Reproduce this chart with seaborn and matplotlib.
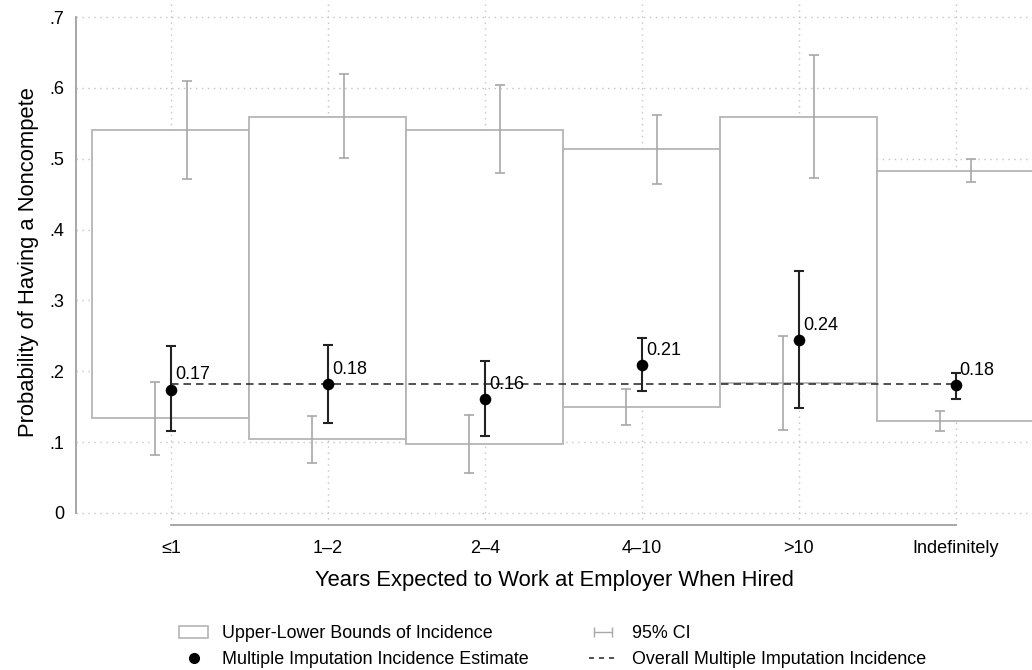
import numpy as np
import pandas as pd
import matplotlib
matplotlib.use("Agg")
import matplotlib.pyplot as plt
import seaborn as sns
from matplotlib.patches import Patch
from matplotlib.lines import Line2D
from matplotlib.legend_handler import HandlerLine2D

# ---- data ----
categories = ['≤1', '1–2', '2–4', '4–10', '>10', 'Indefinitely']
upper_bound = [0.541, 0.559, 0.541, 0.513, 0.559, 0.483]
lower_bound = [0.134, 0.104, 0.098, 0.150, 0.183, 0.130]
upper_ci_lo = [0.472, 0.501, 0.480, 0.465, 0.473, 0.467]
upper_ci_hi = [0.610, 0.619, 0.604, 0.562, 0.646, 0.500]
lower_ci_lo = [0.082, 0.070, 0.057, 0.124, 0.117, 0.116]
lower_ci_hi = [0.185, 0.137, 0.138, 0.175, 0.250, 0.144]
mi_estimate = [0.174, 0.182, 0.161, 0.209, 0.244, 0.180]
mi_ci_lo = [0.116, 0.127, 0.109, 0.172, 0.148, 0.161]
mi_ci_hi = [0.235, 0.237, 0.214, 0.247, 0.342, 0.197]
value_labels = ['0.17', '0.18', '0.16', '0.21', '0.24', '0.18']
overall_mi = 0.182
ytick_values = [0, 0.1, 0.2, 0.3, 0.4, 0.5, 0.6, 0.7]
ytick_labels = ['0', '.1', '.2', '.3', '.4', '.5', '.6', '.7']

sns.set_style("white")
plt.rcParams['font.family'] = ['Liberation Sans', 'DejaVu Sans']
plt.rcParams['text.color'] = 'black'
plt.rcParams['axes.labelcolor'] = 'black'
plt.rcParams['xtick.color'] = 'black'
plt.rcParams['ytick.color'] = 'black'

GRAY_BOX = '#b5b5b5'
GRAY_CI = '#a8a8a8'
SPINE = '#a0a0a0'
GRID = '#c4c4c4'

fig = plt.figure(figsize=(10.32, 6.70), dpi=100)
ax = fig.add_axes([76 / 1032, 1 - 525 / 670, 1 - 76 / 1032, 525 / 670])

x = np.arange(len(categories))
df = pd.DataFrame({'x': x, 'cat': categories, 'est': mi_estimate})

# grid
for yv in ytick_values:
    ax.axhline(yv, color=GRID, lw=1.0, ls=(0, (1, 3.3)), zorder=0)
for xv in x:
    ax.axvline(xv, color=GRID, lw=1.0, ls=(0, (1, 3.3)), zorder=0)

# upper-lower bound boxes
ub = np.array(upper_bound)
lb = np.array(lower_bound)
ax.bar(x, ub - lb, bottom=lb, width=1.0, facecolor='white',
       edgecolor=GRAY_BOX, linewidth=1.3, zorder=1)

# gray 95% CIs for the bounds
off = 0.10
ub_ci_lo = np.array(upper_ci_lo); ub_ci_hi = np.array(upper_ci_hi)
lb_ci_lo = np.array(lower_ci_lo); lb_ci_hi = np.array(lower_ci_hi)
ax.errorbar(x + off, (ub_ci_lo + ub_ci_hi) / 2, yerr=(ub_ci_hi - ub_ci_lo) / 2,
            fmt='none', ecolor=GRAY_CI, elinewidth=1.2, capsize=3.3, capthick=1.2, zorder=2)
ax.errorbar(x - off, (lb_ci_lo + lb_ci_hi) / 2, yerr=(lb_ci_hi - lb_ci_lo) / 2,
            fmt='none', ecolor=GRAY_CI, elinewidth=1.2, capsize=3.3, capthick=1.2, zorder=2)

# overall dashed line
ax.plot([x[0], x[-1]], [overall_mi, overall_mi], color='#333333', lw=1.2,
        ls=(0, (4.5, 3)), zorder=3)

# MI estimates with CIs
est = np.array(mi_estimate)
ax.errorbar(x, est, yerr=[est - np.array(mi_ci_lo), np.array(mi_ci_hi) - est],
            fmt='none', ecolor='#222222', elinewidth=1.5, capsize=3.6, capthick=1.5, zorder=4)
sns.scatterplot(data=df, x='x', y='est', color='black', s=70, edgecolor='black',
                linewidth=0, zorder=5, ax=ax, legend=False)
for xi, yi, lab in zip(x, est, value_labels):
    ax.annotate(lab, (xi, yi), xytext=(3, 4.5), textcoords='offset points',
                ha='left', va='bottom', fontsize=13, color='black', zorder=6)

# axes styling
ax.set_xlim(-0.605, 5.487)
ax.set_ylim(-0.017, 0.724)
ax.set_xticks(x)
ax.set_xticklabels(categories, fontsize=13)
ax.set_yticks(ytick_values)
ax.set_yticklabels(ytick_labels, fontsize=13)
for s in ['top', 'right']:
    ax.spines[s].set_visible(False)
ax.spines['left'].set_bounds(0, 0.7)
ax.spines['bottom'].set_bounds(0, 5)
for s in ['left', 'bottom']:
    ax.spines[s].set_color(SPINE)
    ax.spines[s].set_linewidth(1.3)
ax.tick_params(axis='y', direction='out', length=4.5, width=1.2, color=SPINE,
               labelcolor='black', pad=4)
ax.tick_params(axis='x', direction='out', length=6, width=1.2, color=SPINE,
               labelcolor='black', pad=5)
ax.set_xlabel('Years Expected to Work at Employer When Hired', fontsize=15.8, labelpad=9)
ax.set_ylabel('Probability of Having a Noncompete', fontsize=15.8, labelpad=7)
ax.set_facecolor('white')

# legend
h_box = Patch(facecolor='white', edgecolor=GRAY_BOX, linewidth=1.2)
h_dot = Line2D([], [], marker='o', color='black', ls='none', markersize=7)
h_ci = Line2D([], [], color=GRAY_CI, lw=1.0, marker='|', markersize=7, markeredgewidth=1.0)
h_dash = Line2D([], [], color='#333333', lw=1.2, ls=(0, (3, 3)))
leg = fig.legend([h_box, h_dot, h_ci, h_dash],
                 ['Upper-Lower Bounds of Incidence', 'Multiple Imputation Incidence Estimate',
                  '95% CI', 'Overall Multiple Imputation Incidence'],
                 ncol=2, loc='upper left', bbox_to_anchor=(163 / 1032, 1 - 609 / 670),
                 frameon=False, fontsize=12.9, handlelength=1.62, handletextpad=0.78,
                 columnspacing=3.35, labelspacing=0.52,
                 handler_map={h_ci: HandlerLine2D(numpoints=2)})

fig.savefig('out.png', dpi=100, facecolor='white')
